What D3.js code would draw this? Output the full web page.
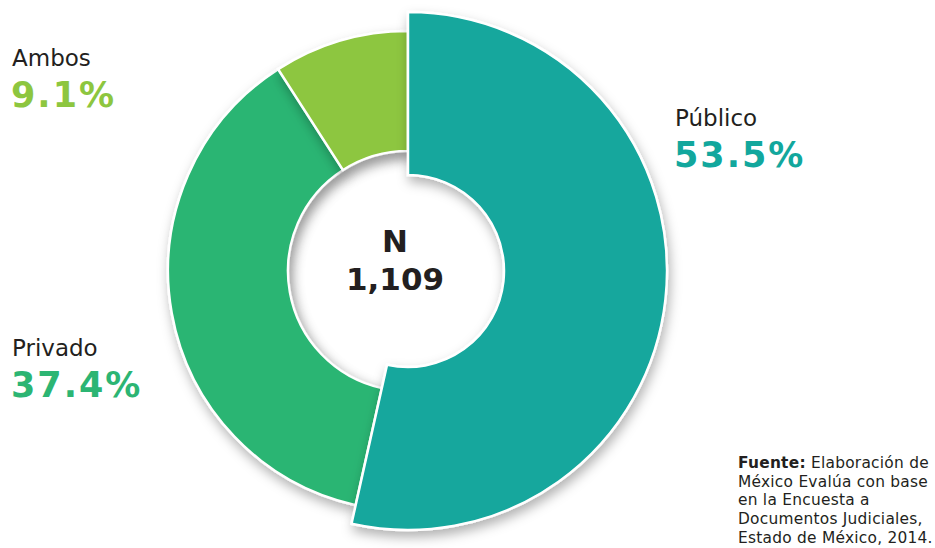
<!DOCTYPE html>
<html>
<head>
<meta charset="utf-8">
<script src="https://cdn.jsdelivr.net/npm/d3@7"></script>
<style>
  body { margin: 0; background: #fff; }
  svg { display: block; font-family: "DejaVu Sans", Verdana, sans-serif; }
</style>
</head>
<body>
<svg id="chart" width="935" height="548"></svg>
<script>
// data
const categories = ['Público', 'Privado', 'Ambos'];
const shares = [53.5, 37.4, 9.1];
const sliceColors = ['#12a79d', '#2cb573', '#8dc63f'];
const sampleSize = '1,109';
const sourceLines = [
  ['Fuente:', ' Elaboración de'],
  ['', 'México Evalúa con base'],
  ['', 'en la Encuesta a'],
  ['', 'Documentos Judiciales,'],
  ['', 'Estado de México, 2014.']
];

const svg = d3.select('#chart');
const cx = 408, cy = 271;

// filters for soft shadows
const defs = svg.append('defs');
const shadow = defs.append('filter').attr('id', 'shadow')
  .attr('x', '-20%').attr('y', '-20%').attr('width', '140%').attr('height', '140%');
shadow.append('feDropShadow')
  .attr('dx', 2).attr('dy', 6).attr('stdDeviation', 6)
  .attr('flood-color', '#000').attr('flood-opacity', 0.3);

const blur = defs.append('filter').attr('id', 'blur');
blur.append('feGaussianBlur').attr('stdDeviation', 6);

defs.append('clipPath').attr('id', 'holeClip')
  .append('circle').attr('r', 119);

const pie = d3.pie().sort(null).value((d) => d);
const arcs = pie(shares);

const small = d3.arc().innerRadius(120).outerRadius(240);
const big = d3.arc().innerRadius(96).outerRadius(259);

const g = svg.append('g').attr('transform', `translate(${cx},${cy})`);

// Privado and Ambos first, Público drawn on top
g.selectAll('path.slice')
  .data(arcs.filter((a) => a.index !== 0))
  .enter()
  .append('path')
  .attr('class', 'slice')
  .attr('d', small)
  .attr('fill', (a) => sliceColors[a.index])
  .attr('stroke', '#fff')
  .attr('stroke-width', 2.5)
  .attr('filter', 'url(#shadow)');

// inner shadow inside the hole
const hole = g.append('g').attr('clip-path', 'url(#holeClip)');
hole.append('circle')
  .attr('r', 124)
  .attr('cx', 2).attr('cy', 6)
  .attr('fill', 'none')
  .attr('stroke', '#000')
  .attr('stroke-opacity', 0.18)
  .attr('stroke-width', 14)
  .attr('filter', 'url(#blur)');

g.append('path')
  .datum(arcs[0])
  .attr('d', big)
  .attr('fill', sliceColors[0])
  .attr('stroke', '#fff')
  .attr('stroke-width', 2.5)
  .attr('filter', 'url(#shadow)');

// centre label (sits in the middle of the visible hole)
const holeMid = -13;
g.append('text')
  .attr('text-anchor', 'middle')
  .attr('x', holeMid)
  .attr('y', -19)
  .attr('font-weight', 'bold')
  .attr('font-size', 31)
  .attr('fill', '#231f20')
  .text('N');
g.append('text')
  .attr('text-anchor', 'middle')
  .attr('x', holeMid)
  .attr('y', 19)
  .attr('font-weight', 'bold')
  .attr('font-size', 31)
  .attr('fill', '#231f20')
  .text(sampleSize);

// side labels
const labelPos = [
  { x: 675, y: 126 },
  { x: 12, y: 356 },
  { x: 12, y: 66 }
];

categories.forEach((name, i) => {
  const p = labelPos[i];
  svg.append('text')
    .attr('x', p.x).attr('y', p.y)
    .attr('font-size', 23)
    .attr('fill', '#231f20')
    .text(name);
  svg.append('text')
    .attr('x', p.x - 1).attr('y', p.y + 41)
    .attr('font-size', 35)
    .attr('letter-spacing', 2)
    .attr('font-weight', 'bold')
    .attr('fill', sliceColors[i])
    .text(d3.format('.1f')(shares[i]) + '%');
});

// source note
const note = svg.append('text')
  .attr('x', 738).attr('y', 468)
  .attr('font-size', 15.4)
  .attr('letter-spacing', 0.25)
  .attr('fill', '#231f20');
sourceLines.forEach((line, i) => {
  const t = note.append('tspan').attr('x', 738).attr('y', 468 + i * 18.7);
  if (line[0]) t.append('tspan').attr('font-weight', 'bold').text(line[0]);
  t.append('tspan').text(line[1]);
});
</script>
</body>
</html>
